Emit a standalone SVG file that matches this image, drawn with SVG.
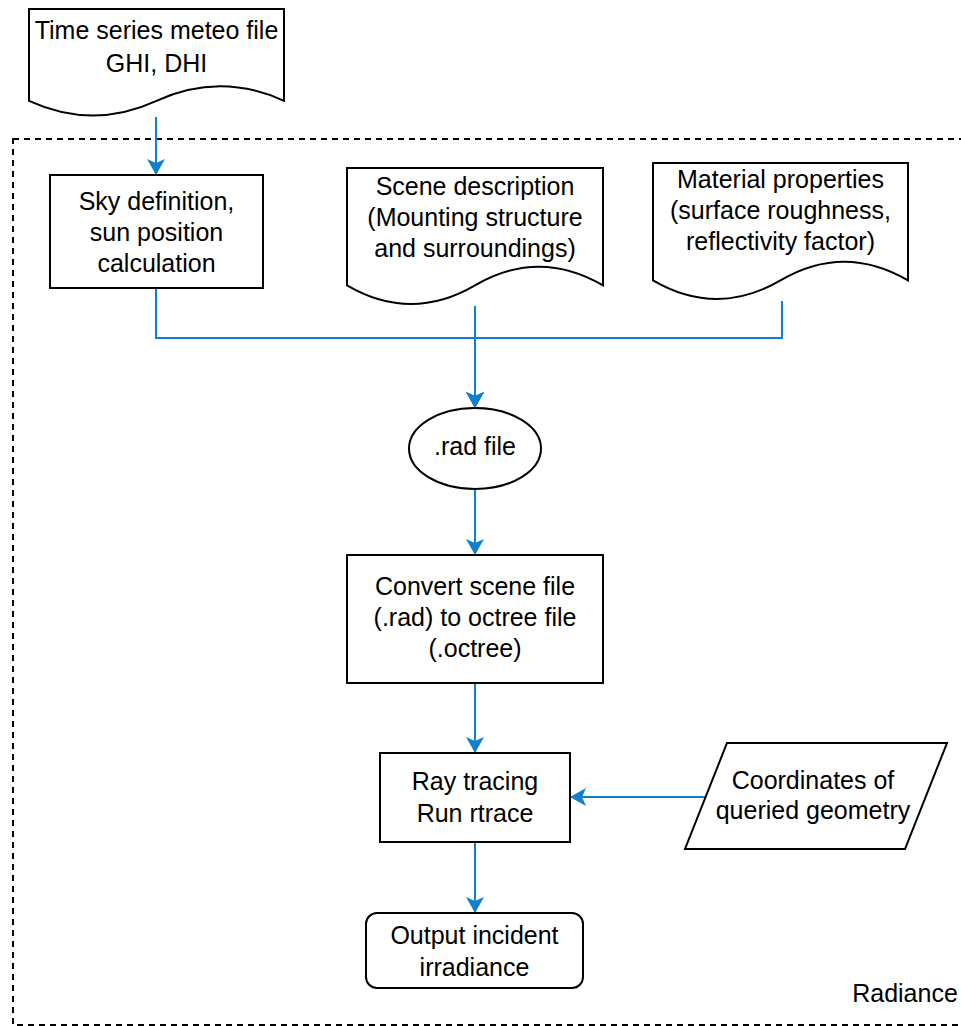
<svg xmlns="http://www.w3.org/2000/svg" width="961" height="1026" viewBox="0 0 961 1026">
<style>
.n{fill:#fff;stroke:#000;stroke-width:2}
.t{font-family:"Liberation Sans",Arial,sans-serif;font-size:25px;fill:#000;text-anchor:middle}
.c{fill:none;stroke:#0F7FD1;stroke-width:2;marker-end:url(#ah)}
</style>
<defs>
<marker id="ah" markerUnits="userSpaceOnUse" viewBox="0 0 16 18" refX="16" refY="9" markerWidth="16" markerHeight="18" orient="auto">
<path d="M0,0 L16,9 L0,18 L4,9 Z" fill="#0F7FD1"/>
</marker>
</defs>
<rect x="13" y="139" width="970" height="886" fill="none" stroke="#000" stroke-width="2" stroke-dasharray="6 5"/>
<text class="t" x="905" y="1002">Radiance</text>
<g id="connectors">
<path class="c" d="M156,117 V175"/>
<path class="c" d="M156,288 V338 H475 V408"/>
<path class="c" d="M475,306 V408"/>
<path class="c" d="M782,301 V338 H475 V408"/>
<path class="c" d="M475,489 V555"/>
<path class="c" d="M475,683 V753"/>
<path class="c" d="M705,797 H570"/>
<path class="c" d="M475,842 V913"/>
</g>
<g id="meteo">
<path class="n" d="M29,9 H284 V100.8 Q220,71.6 156.5,100.8 Q93,130 29,100.8 Z"/>
<text class="t" x="156.5" y="39">Time series meteo file</text>
<text class="t" x="156.5" y="72">GHI, DHI</text>
</g>
<g id="sky">
<rect class="n" x="50" y="175" width="213" height="113"/>
<text class="t" x="156.5" y="210">Sky definition,</text>
<text class="t" x="156.5" y="241">sun position</text>
<text class="t" x="156.5" y="272">calculation</text>
</g>
<g id="scene">
<path class="n" d="M347,168 H603 V285.3 Q539,248 475,285.3 Q411,322.6 347,285.3 Z"/>
<text class="t" x="475" y="195">Scene description</text>
<text class="t" x="475" y="226">(Mounting structure</text>
<text class="t" x="475" y="257">and surroundings)</text>
</g>
<g id="material">
<path class="n" d="M653,163 H908 V280.3 Q844,243 780.5,280.3 Q717,317.6 653,280.3 Z"/>
<text class="t" x="780.5" y="188">Material properties</text>
<text class="t" x="780.5" y="219">(surface roughness,</text>
<text class="t" x="780.5" y="250">reflectivity factor)</text>
</g>
<g id="radfile">
<ellipse class="n" cx="475" cy="448.5" rx="66" ry="40.5"/>
<text class="t" x="475" y="455">.rad file</text>
</g>
<g id="convert">
<rect class="n" x="347" y="555" width="256" height="128"/>
<text class="t" x="475" y="595">Convert scene file</text>
<text class="t" x="475" y="626">(.rad) to octree file</text>
<text class="t" x="475" y="657">(.octree)</text>
</g>
<g id="raytracing">
<rect class="n" x="380" y="753" width="190" height="89"/>
<text class="t" x="475" y="790">Ray tracing</text>
<text class="t" x="475" y="822">Run rtrace</text>
</g>
<g id="coordinates">
<path class="n" d="M727,743 H947 L905,849 H685 Z"/>
<text class="t" x="813" y="789">Coordinates of</text>
<text class="t" x="813" y="819">queried geometry</text>
</g>
<g id="output">
<rect class="n" x="366" y="913" width="217" height="75" rx="11" ry="11"/>
<text class="t" x="474.5" y="944">Output incident</text>
<text class="t" x="474.5" y="976">irradiance</text>
</g>
</svg>
